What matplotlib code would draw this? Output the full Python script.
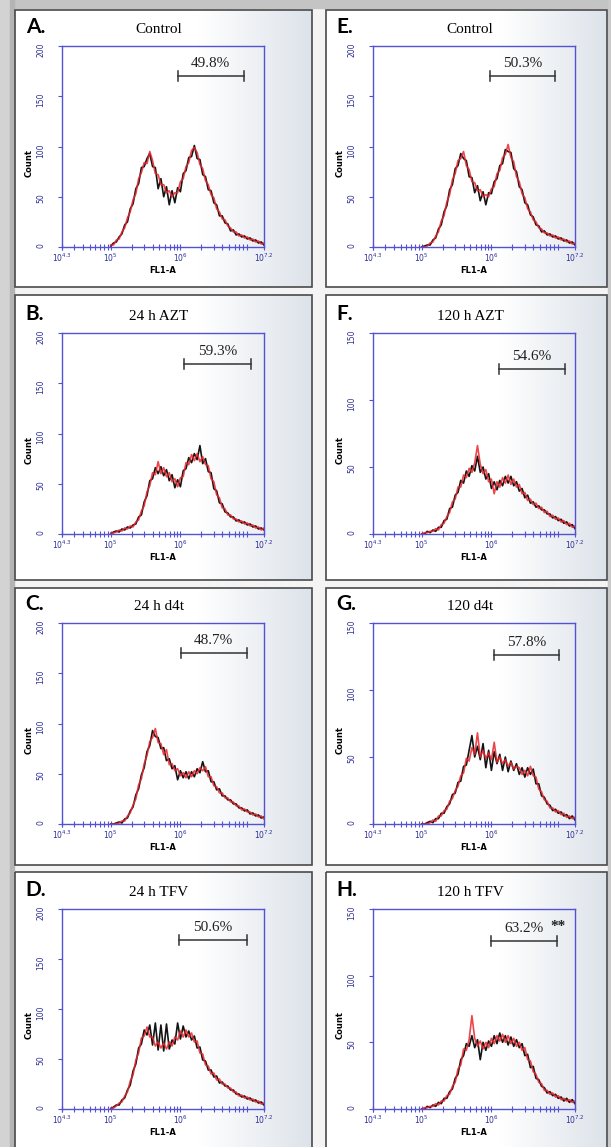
import numpy as np
import matplotlib.pyplot as plt
from matplotlib.patches import Rectangle
from matplotlib.colors import LinearSegmentedColormap
from matplotlib.ticker import LogLocator, NullFormatter

W, H = 611, 1147

# log10(FL1-A) channel positions shared by every histogram
LOG_FL1 = np.round(np.arange(5.00, 7.2001, 0.04), 2)

PANEL_IDS = ['A', 'B', 'C', 'D', 'E', 'F', 'G', 'H']
TITLES = ['Control', '24 h AZT', '24 h d4t', '24 h TFV',
          'Control', '120 h AZT', '120 d4t', '120 h TFV']
PERCENTS = ['49.8%', '59.3%', '48.7%', '50.6%', '50.3%', '54.6%', '57.8%', '63.2%']
SIGNIF = ['', '', '', '', '', '', '', '**']
Y_MAX = [200, 200, 200, 200, 200, 150, 150, 150]
GATE_LO = [5.96, 6.05, 6.01, 5.98, 5.98, 6.11, 6.03, 5.99]
GATE_HI = [6.91, 7.02, 6.95, 6.95, 6.92, 7.05, 6.97, 6.94]
GATE_Y = [170, 169, 170, 169, 170, 123, 126, 126]

# counts per channel, black and red overlay for each panel
A_BLACK = [1, 4, 5, 10, 13, 22, 25, 38, 43, 58, 63, 79, 80, 88,
           93, 80, 79, 58, 68, 50, 60, 42, 56, 44, 59, 55, 73, 76,
           89, 90, 101, 88, 87, 72, 70, 57, 56, 44, 42, 31, 31, 24,
           23, 16, 17, 12, 13, 10, 11, 8, 9, 6, 7, 4, 5, 2]
A_RED = [2, 2, 7, 8, 15, 19, 29, 35, 47, 53, 68, 74, 84, 83,
         95, 86, 73, 72, 62, 62, 54, 56, 50, 54, 54, 65, 68, 80,
         84, 96, 99, 94, 82, 78, 66, 62, 52, 49, 38, 35, 28, 27,
         21, 19, 15, 15, 11, 12, 9, 10, 7, 8, 5, 6, 3, 4]

B_BLACK = [0, 2, 3, 2, 5, 4, 7, 6, 9, 10, 17, 19, 32, 38,
           53, 55, 66, 60, 67, 58, 64, 53, 59, 46, 54, 47, 63, 65,
           76, 71, 80, 74, 88, 70, 75, 62, 61, 45, 43, 31, 30, 22,
           21, 17, 17, 13, 14, 11, 12, 9, 10, 7, 8, 5, 6, 4]
B_RED = [1, 1, 2, 4, 3, 6, 5, 8, 7, 12, 14, 23, 28, 42,
         48, 61, 59, 72, 60, 66, 57, 61, 52, 55, 47, 56, 57, 71,
         69, 79, 73, 80, 72, 77, 69, 68, 55, 52, 39, 36, 26, 25,
         19, 19, 15, 15, 12, 13, 10, 11, 8, 9, 6, 7, 4, 6]

C_BLACK = [0, 0, 1, 2, 1, 5, 6, 13, 17, 29, 35, 49, 56, 72,
           78, 93, 87, 86, 75, 76, 63, 65, 55, 58, 44, 53, 46, 52,
           45, 52, 47, 55, 51, 62, 52, 53, 42, 42, 34, 35, 28, 28,
           24, 24, 20, 20, 16, 16, 13, 14, 10, 11, 8, 9, 6, 7]
C_RED = [0, 0, 0, 1, 3, 3, 8, 11, 19, 25, 39, 45, 60, 68,
         82, 86, 95, 81, 80, 69, 74, 59, 60, 53, 55, 48, 51, 46,
         52, 47, 53, 50, 56, 53, 57, 47, 47, 38, 37, 31, 31, 26,
         26, 22, 22, 18, 18, 14, 15, 12, 12, 9, 10, 7, 8, 5]

D_BLACK = [0, 2, 4, 4, 9, 11, 19, 24, 38, 45, 61, 65, 79, 74,
           84, 64, 86, 59, 84, 58, 85, 60, 69, 65, 86, 70, 83, 72,
           78, 69, 73, 61, 62, 49, 48, 39, 39, 32, 33, 26, 27, 23,
           23, 19, 19, 15, 15, 12, 13, 10, 11, 8, 9, 6, 7, 4]
D_RED = [1, 1, 3, 6, 7, 13, 17, 28, 34, 49, 56, 71, 73, 82,
         72, 72, 63, 67, 61, 66, 60, 67, 63, 72, 69, 78, 72, 79,
         72, 76, 67, 68, 56, 55, 44, 43, 35, 36, 29, 30, 25, 25,
         21, 21, 17, 17, 13, 14, 11, 12, 9, 10, 7, 8, 5, 6]

E_BLACK = [0, 1, 2, 2, 7, 9, 18, 22, 35, 41, 57, 62, 78, 81,
           93, 88, 86, 70, 69, 54, 61, 46, 55, 42, 54, 53, 65, 68,
           81, 83, 97, 95, 94, 78, 75, 60, 57, 44, 42, 32, 30, 22,
           21, 15, 16, 12, 13, 10, 11, 8, 9, 6, 7, 4, 5, 2]
E_RED = [0, 0, 1, 4, 5, 11, 15, 26, 31, 45, 52, 67, 73, 86,
         88, 95, 81, 77, 65, 64, 56, 57, 50, 52, 50, 58, 60, 73,
         76, 89, 92, 102, 89, 85, 70, 65, 53, 49, 38, 35, 27, 25,
         19, 18, 14, 14, 11, 12, 9, 10, 7, 8, 5, 6, 3, 4]

F_BLACK = [0, 0, 2, 1, 3, 2, 5, 5, 10, 11, 19, 20, 29, 31,
           40, 38, 47, 43, 51, 47, 58, 46, 50, 41, 45, 34, 39, 33,
           40, 36, 43, 38, 43, 36, 39, 32, 34, 27, 29, 23, 24, 20,
           21, 18, 18, 15, 15, 12, 13, 10, 11, 8, 9, 6, 7, 4]
F_RED = [0, 1, 1, 2, 2, 4, 3, 7, 8, 13, 16, 24, 26, 35,
         35, 44, 42, 49, 46, 53, 66, 52, 45, 48, 39, 41, 30, 39,
         35, 42, 38, 44, 37, 41, 35, 37, 30, 31, 25, 26, 22, 23,
         19, 20, 16, 17, 13, 14, 11, 12, 9, 10, 7, 8, 5, 6]

G_BLACK = [0, 0, 1, 2, 1, 4, 4, 8, 8, 13, 15, 22, 23, 31,
           32, 43, 44, 55, 66, 50, 58, 48, 60, 42, 55, 40, 54, 45,
           52, 40, 50, 39, 47, 40, 45, 37, 42, 35, 42, 37, 41, 30,
           30, 21, 20, 15, 14, 10, 11, 8, 9, 6, 7, 4, 6, 3]
G_RED = [0, 0, 0, 1, 3, 2, 6, 6, 10, 11, 17, 19, 25, 28,
         36, 38, 49, 47, 57, 52, 68, 50, 55, 49, 53, 48, 61, 46,
         50, 45, 48, 43, 46, 41, 43, 42, 37, 40, 36, 43, 36, 35,
         26, 24, 18, 17, 12, 12, 9, 10, 7, 8, 5, 6, 4, 5]

H_BLACK = [0, 0, 2, 1, 3, 2, 5, 4, 8, 8, 13, 15, 23, 26,
           37, 40, 49, 47, 55, 46, 52, 37, 50, 44, 51, 47, 55, 49,
           57, 50, 55, 48, 54, 47, 52, 46, 49, 40, 41, 31, 32, 23,
           22, 17, 16, 12, 13, 10, 11, 8, 9, 6, 8, 5, 7, 4]
H_RED = [0, 1, 1, 2, 2, 4, 3, 6, 6, 10, 11, 17, 20, 30,
         33, 45, 44, 52, 70, 53, 47, 51, 45, 50, 46, 53, 49, 55,
         51, 56, 50, 55, 49, 53, 47, 50, 44, 46, 37, 36, 28, 26,
         20, 19, 14, 14, 11, 12, 9, 10, 7, 8, 6, 7, 5, 6]

BLACK_SERIES = [A_BLACK, B_BLACK, C_BLACK, D_BLACK, E_BLACK, F_BLACK, G_BLACK, H_BLACK]
RED_SERIES = [A_RED, B_RED, C_RED, D_RED, E_RED, F_RED, G_RED, H_RED]

# layout in pixels (left/right columns, four rows)
AX_X = [(62, 264), (373, 575)]
AX_Y = [(46, 247), (333, 534), (623, 824), (909, 1109)]
BOX_X = [(15, 312), (326, 607)]
BOX_Y = [(10, 287), (295, 580), (588, 865), (872, 1160)]

AXIS_BLUE = '#5252d2'
LABEL_BLUE = '#2e2e96'
SERIF = 'Liberation Serif'

fig = plt.figure(figsize=(W / 100, H / 100), dpi=100, facecolor='#f4f4f4')

# background layer in pixel coordinates
bg = fig.add_axes([0, 0, 1, 1], zorder=0)
bg.set_axis_off()
bg.add_patch(Rectangle((0, 0), W, 8, color='#c4c4c4'))
bg.add_patch(Rectangle((0, 0), 10, H, color='#d3d3d3'))
bg.add_patch(Rectangle((10, 0), 4, H, color='#b4b4b4'))
bg.add_patch(Rectangle((608, 0), 3, H, color='#c9c9c9'))

shade = LinearSegmentedColormap.from_list('shade', ['#ffffff', '#dde3ea'])
ramp = np.clip((np.linspace(0, 1, 200) - 0.62) / 0.38, 0, 1)[None, :]
for bx in BOX_X:
    for by in BOX_Y:
        bg.imshow(ramp, extent=(bx[0], bx[1], by[1], by[0]), cmap=shade,
                  aspect='auto', vmin=0, vmax=1)
        bg.add_patch(Rectangle((bx[0], by[0]), bx[1] - bx[0], by[1] - by[0],
                               fill=False, edgecolor='#4a4a4a', lw=1.2))
bg.set_xlim(0, W)
bg.set_ylim(H, 0)

for i, pid in enumerate(PANEL_IDS):
    col, row = divmod(i, 4)
    x0, x1 = AX_X[col]
    y0, y1 = AX_Y[row]
    ax = fig.add_axes([x0 / W, 1 - y1 / H, (x1 - x0) / W, (y1 - y0) / H], zorder=2)
    ax.set_facecolor('none')

    xs = 10 ** LOG_FL1
    ax.plot(xs, BLACK_SERIES[i], color='#141414', lw=1.2)
    ax.plot(xs, RED_SERIES[i], color='#e8262c', lw=1.2, alpha=0.85)

    ax.set_xscale('log')
    ax.set_xlim(10 ** 4.3, 10 ** 7.2)
    ax.set_ylim(0, Y_MAX[i])
    ax.set_xticks([10 ** 4.3, 1e5, 1e6, 10 ** 7.2],
                  [r'$10^{4.3}$', r'$10^{5}$', r'$10^{6}$', r'$10^{7.2}$'])
    ax.xaxis.set_minor_locator(LogLocator(base=10, subs=np.arange(2, 10), numticks=20))
    ax.xaxis.set_minor_formatter(NullFormatter())
    ax.set_yticks(np.arange(0, Y_MAX[i] + 1, 50))

    for sp in ax.spines.values():
        sp.set_color(AXIS_BLUE)
        sp.set_linewidth(1.0)
    ax.tick_params(axis='x', which='both', direction='inout', length=4, width=0.8,
                   color=AXIS_BLUE, labelsize=5.5, labelcolor=LABEL_BLUE, pad=1.5)
    ax.tick_params(axis='y', direction='out', length=3, width=0.8, color=AXIS_BLUE,
                   labelsize=5.5, labelcolor=LABEL_BLUE, labelrotation=90, pad=9)
    ax.set_xlabel('FL1-A', fontsize=6, fontweight='bold', labelpad=1)
    ax.text(-0.165, 0.42, 'Count', rotation=90, transform=ax.transAxes,
            ha='center', va='center', fontsize=6, fontweight='bold')

    # panel letter and title
    ax.text(-0.18, 1.065, pid + '.', transform=ax.transAxes, ha='left', va='baseline',
            fontsize=15, fontweight='bold', family='Lato')
    ax.text(0.48, 1.065, TITLES[i], transform=ax.transAxes, ha='center', va='baseline',
            fontsize=11, family=SERIF)

    # gate marker with percentage
    lo, hi, gy = 10 ** GATE_LO[i], 10 ** GATE_HI[i], GATE_Y[i]
    cap = 0.025 * Y_MAX[i]
    ax.plot([lo, hi], [gy, gy], color='#333333', lw=1.1)
    ax.plot([lo, lo], [gy - cap, gy + cap], color='#333333', lw=1.1)
    ax.plot([hi, hi], [gy - cap, gy + cap], color='#333333', lw=1.1)
    mid = 10 ** ((GATE_LO[i] + GATE_HI[i]) / 2)
    ax.annotate(PERCENTS[i], xy=(mid, gy), xytext=(0, 6.5), textcoords='offset points',
                ha='center', va='baseline', fontsize=11, family=SERIF, color='#222222')
    if SIGNIF[i]:
        ax.annotate(SIGNIF[i], xy=(hi, gy), xytext=(1, 8), textcoords='offset points',
                    ha='center', va='baseline', fontsize=11, family=SERIF,
                    fontweight='bold', color='#222222')

fig.savefig('out.png', dpi=100, facecolor=fig.get_facecolor())
